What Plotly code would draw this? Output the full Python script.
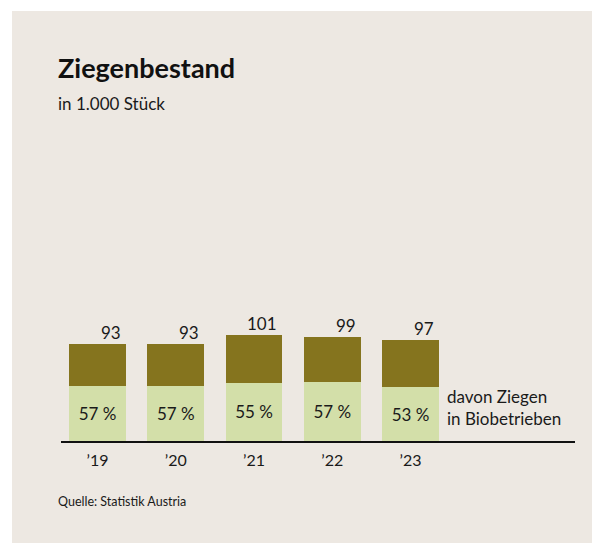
import plotly.graph_objects as go

# data
years = ["’19", "’20", "’21", "’22", "’23"]
totals = [93, 93, 101, 99, 97]          # Ziegenbestand in 1.000 Stück
bio_pct = [57, 57, 55, 57, 53]          # davon in Biobetrieben, %

W, H = 592, 543
L, R, T, B = 61, 17, 120, 102
PW, PH = W - L - R, H - T - B
FONT = "Lato"
DARK = "#85741e"
LIGHT = "#d3dfa9"
PANEL = "#ede8e2"
INK = "#1a1a1a"


def px_x(p):
    return (p - L) / PW


def px_y(p):
    return (H - B - p) / PH


xs = list(range(len(years)))
bio = [t * p / 100 for t, p in zip(totals, bio_pct)]
rest = [t - b for t, b in zip(totals, bio)]
bar_w = 0.728

fig = go.Figure()
fig.add_trace(go.Bar(
    x=xs, y=bio, width=bar_w, marker=dict(color=LIGHT, line=dict(width=0)),
    text=[f"{p} %" for p in bio_pct], textposition="inside",
    insidetextanchor="middle", textangle=0,
    textfont=dict(family=FONT, size=17, color=INK),
    hoverinfo="skip",
))
fig.add_trace(go.Bar(
    x=xs, y=rest, width=bar_w, marker=dict(color=DARK, line=dict(width=0)),
    hoverinfo="skip",
))

annotations = []
for x, t in zip(xs, totals):
    annotations.append(dict(
        x=x + bar_w / 2, y=t, xref="x", yref="y", text=str(t),
        xanchor="right", yanchor="bottom", xshift=-3, yshift=-1,
        showarrow=False, font=dict(family=FONT, size=17, color=INK),
    ))

annotations += [
    dict(x=px_x(56), y=px_y(67), xref="paper", yref="paper",
         text="<b>Ziegenbestand</b>", xanchor="left", yanchor="middle",
         showarrow=False, font=dict(family=FONT, size=27, color="#111")),
    dict(x=px_x(56), y=px_y(103), xref="paper", yref="paper",
         text="in 1.000 Stück", xanchor="left", yanchor="middle",
         showarrow=False, font=dict(family=FONT, size=17, color=INK)),
    dict(x=px_x(445), y=px_y(407), xref="paper", yref="paper",
         text="davon Ziegen<br>in Biobetrieben", xanchor="left",
         yanchor="middle", align="left", showarrow=False,
         font=dict(family=FONT, size=17, color=INK)),
    dict(x=px_x(56), y=px_y(501), xref="paper", yref="paper",
         text="Quelle: Statistik Austria", xanchor="left", yanchor="middle",
         showarrow=False, font=dict(family=FONT, size=12.5, color=INK)),
]

x_lo = -(97.5 - L) / 78.25
fig.update_layout(
    width=W, height=H,
    margin=dict(l=L, r=R, t=T, b=B, pad=0),
    barmode="stack", showlegend=False,
    paper_bgcolor="white", plot_bgcolor="rgba(0,0,0,0)",
    annotations=annotations,
    shapes=[dict(type="rect", xref="paper", yref="paper", layer="below",
                 x0=px_x(12), x1=px_x(W + 2), y0=px_y(11), y1=px_y(H + 2),
                 fillcolor=PANEL, line=dict(width=0))],
)
fig.update_xaxes(
    range=[x_lo, x_lo + PW / 78.25], tickvals=xs, ticktext=years,
    showgrid=False, zeroline=False, showline=True, linecolor="#111",
    linewidth=2, ticks="outside", ticklen=4, tickcolor="rgba(0,0,0,0)",
    tickfont=dict(family=FONT, size=16, color=INK), fixedrange=True,
)
fig.update_yaxes(range=[0, PH / 1.046], visible=False, fixedrange=True)

# drop the default page margin so the figure sits at the window's corner
fig.write_html("out.html", config={"displayModeBar": False},
               post_script="document.body.style.margin = '0';")
